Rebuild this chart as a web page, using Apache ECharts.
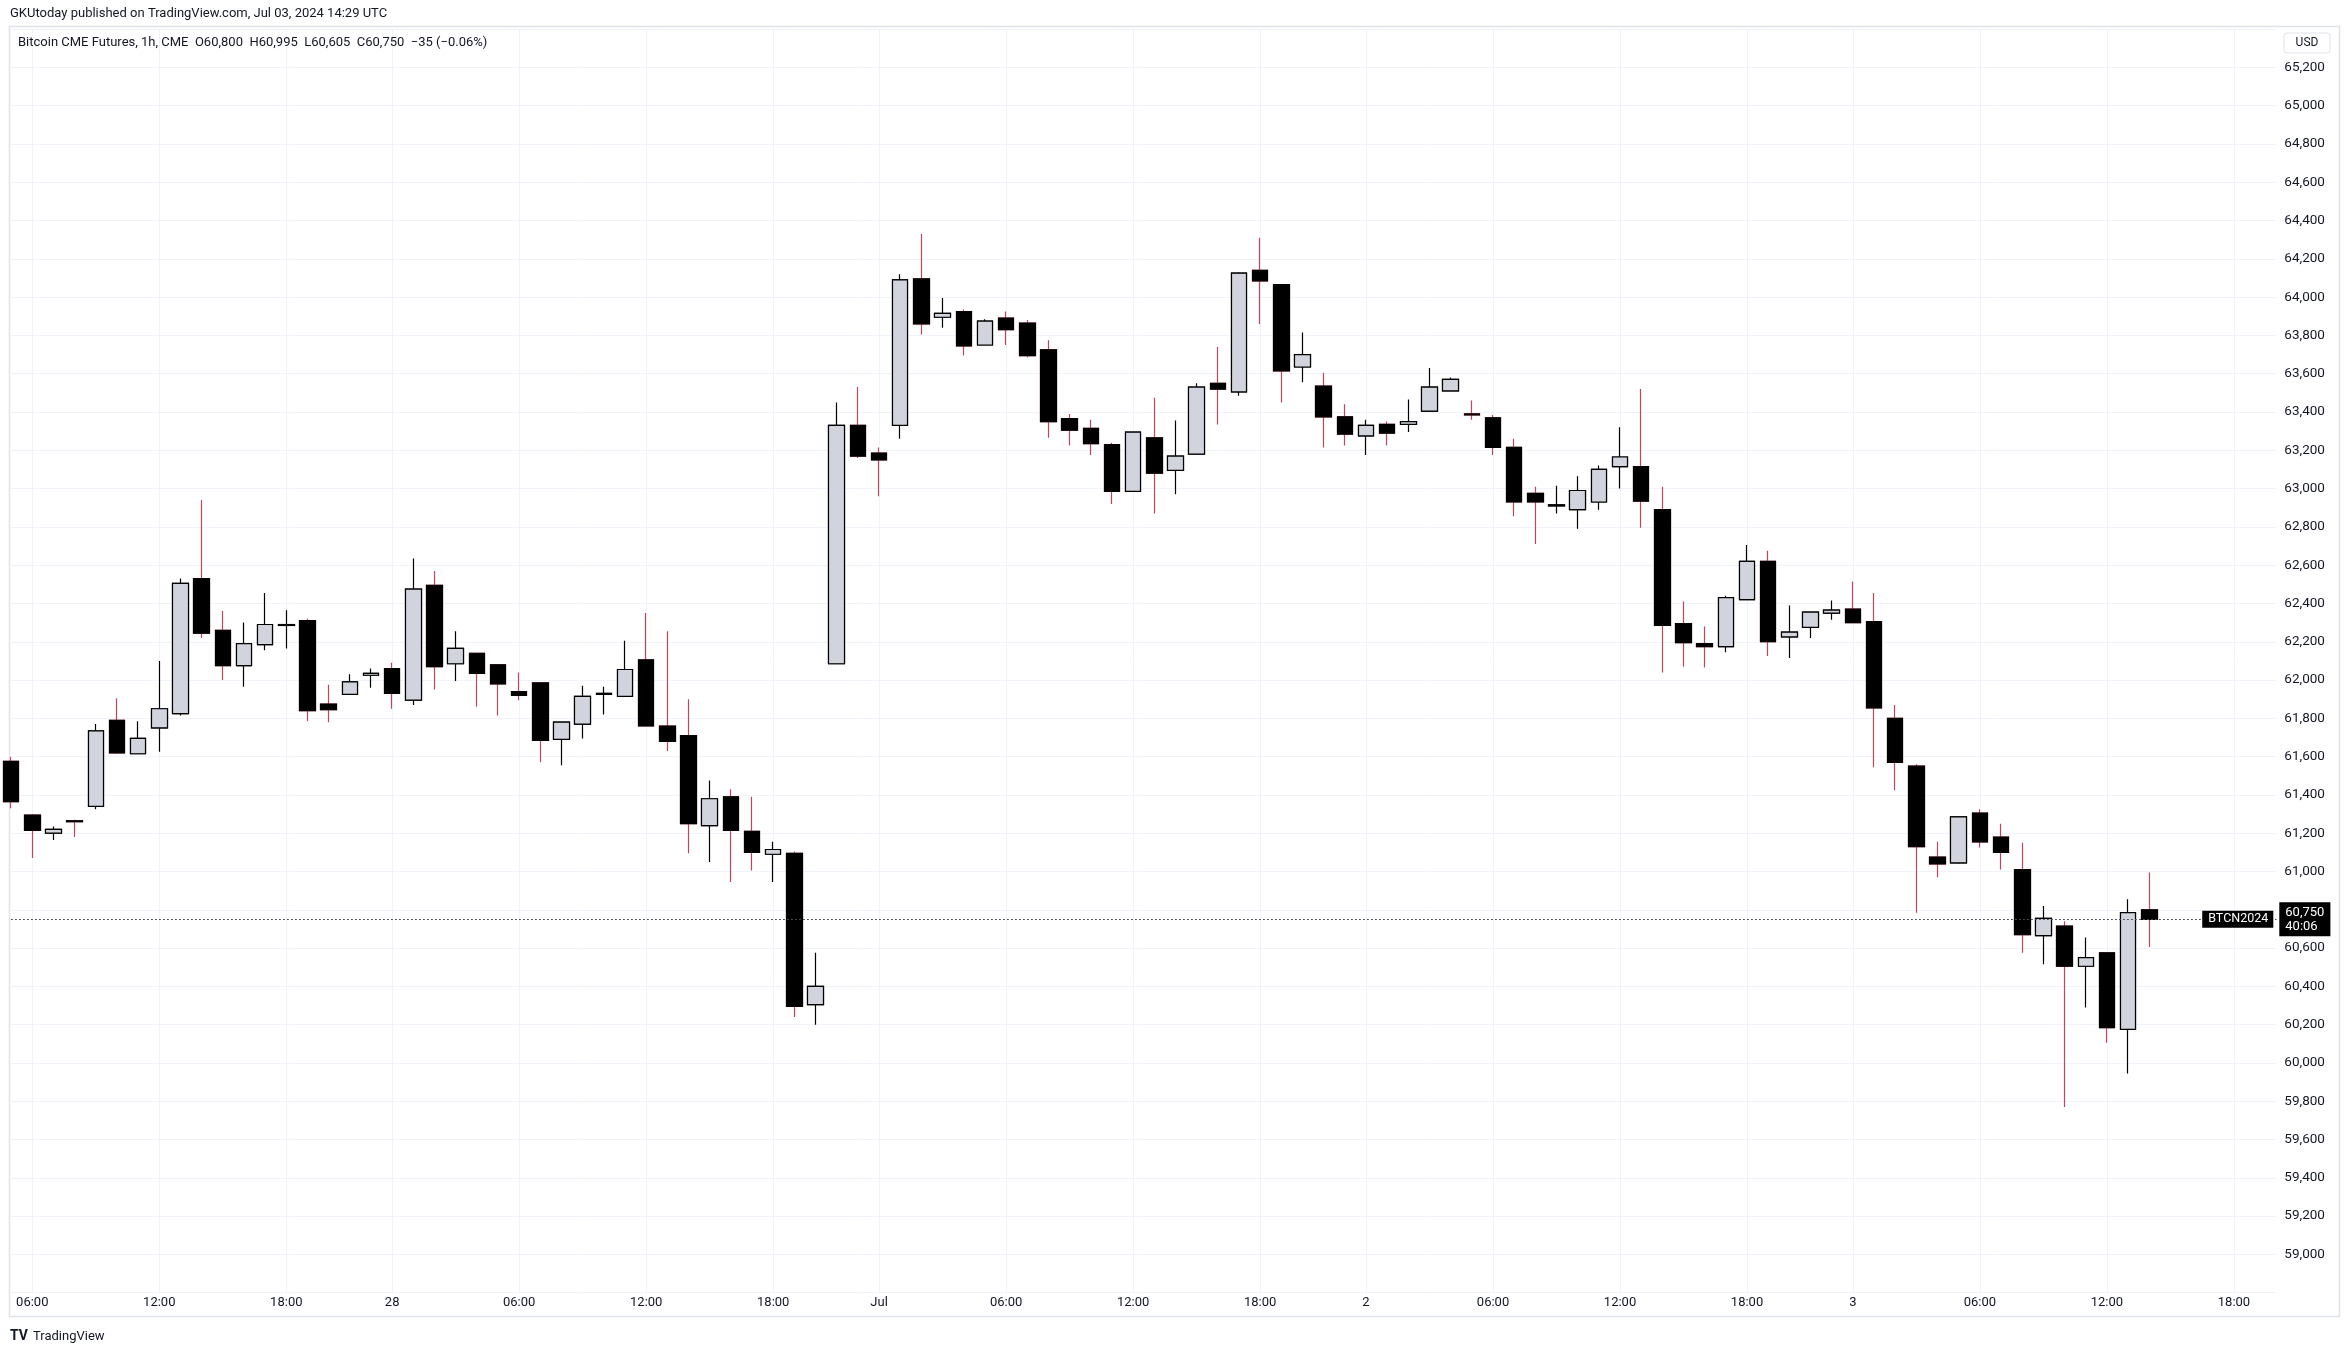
<!DOCTYPE html>
<html>
<head>
<meta charset="utf-8">
<title>Bitcoin CME Futures 1h</title>
<script src="https://cdn.jsdelivr.net/npm/echarts@6/dist/echarts.min.js"></script>
<style>
  html, body { margin: 0; padding: 0; background: #fff; }
  #chart { width: 2345px; height: 1352px; }
</style>
</head>
<body>
<div id="chart"></div>
<script>
// trading sessions (CME pauses 21:00 UTC every day, weekend closed)
const sessions = [
  ['Jun 27', 5, 20], ['Jun 27', 22, 23],
  ['Jun 28', 0, 20],
  ['Jun 30', 22, 23],
  ['Jul 1', 0, 20], ['Jul 1', 22, 23],
  ['Jul 2', 0, 20], ['Jul 2', 22, 23],
  ['Jul 3', 0, 20]
];
// x axis labels
const tickLabels = {
  'Jun 27 06:00': '06:00', 'Jun 27 12:00': '12:00', 'Jun 27 18:00': '18:00',
  'Jun 28 00:00': '28', 'Jun 28 06:00': '06:00', 'Jun 28 12:00': '12:00', 'Jun 28 18:00': '18:00',
  'Jul 1 00:00': 'Jul', 'Jul 1 06:00': '06:00', 'Jul 1 12:00': '12:00', 'Jul 1 18:00': '18:00',
  'Jul 2 00:00': '2', 'Jul 2 06:00': '06:00', 'Jul 2 12:00': '12:00', 'Jul 2 18:00': '18:00',
  'Jul 3 00:00': '3', 'Jul 3 06:00': '06:00', 'Jul 3 12:00': '12:00', 'Jul 3 18:00': '18:00'
};

// hourly OHLC, from Jun 27 05:00 to Jul 3 14:00
const opens = [
  61575, 61295, 61200, 61265, 61340, 61790, 61615, 61750, 61825, 62530,
  62260, 62075, 62185, 62285, 62310, 61875, 61925, 62025,
  62060, 61895, 62495, 62085, 62140, 62080, 61940, 61985, 61690, 61770,
  61925, 61915, 62105, 61760, 61710, 61240, 61390, 61210, 61090, 61095, 60305,
  62085, 63330,
  63185, 63330, 64095, 63895, 63925, 63750, 63890, 63865, 63725, 63365,
  63315, 63230, 62985, 63265, 63095, 63180, 63550, 63505, 64140, 64065, 63635,
  63535, 63375,
  63275, 63335, 63335, 63405, 63510, 63390, 63370, 63215, 62975, 62910,
  62890, 62930, 63115, 63115, 62890, 62295, 62190, 62175, 62420, 62620, 62225,
  62275, 62350,
  62370, 62305, 61800, 61550, 61075, 61045, 61305, 61180, 61010, 60665,
  60715, 60505, 60575, 60175, 60800
];
const highs = [
  61600, 61300, 61235, 61270, 61770, 61905, 61785, 62100, 62530, 62940,
  62360, 62300, 62455, 62365, 62320, 61975, 62030, 62060,
  62090, 62635, 62570, 62255, 62140, 62080, 62040, 61985, 61780, 61970,
  61965, 62205, 62350, 62255, 61900, 61475, 61430, 61390, 61155, 61105, 60575,
  63450, 63530,
  63215, 64120, 64330, 63995, 63935, 63885, 63925, 63880, 63775, 63390,
  63360, 63240, 63295, 63475, 63355, 63550, 63740, 64130, 64310, 64065, 63815,
  63605, 63440,
  63360, 63350, 63465, 63630, 63580, 63460, 63385, 63260, 63010, 63015,
  63065, 63120, 63320, 63520, 63010, 62410, 62280, 62440, 62705, 62675, 62390,
  62355, 62415,
  62515, 62455, 61870, 61560, 61155, 61285, 61325, 61250, 61150, 60820,
  60740, 60655, 60575, 60855, 60995
];
const lows = [
  61330, 61070, 61165, 61180, 61325, 61615, 61615, 61625, 61815, 62220,
  62000, 61965, 62155, 62165, 61785, 61780, 61925, 61960,
  61850, 61870, 61950, 61995, 61860, 61815, 61895, 61570, 61555, 61695,
  61820, 61915, 61760, 61630, 61095, 61050, 60945, 61005, 60945, 60240, 60200,
  62085, 63160,
  62960, 63260, 63805, 63840, 63695, 63750, 63750, 63685, 63265, 63225,
  63175, 62920, 62985, 62870, 62970, 63180, 63335, 63485, 63860, 63450, 63555,
  63215, 63225,
  63175, 63225, 63295, 63405, 63510, 63360, 63175, 62855, 62710, 62870,
  62790, 62890, 63000, 62795, 62040, 62070, 62065, 62145, 62420, 62125, 62115,
  62220, 62315,
  62300, 61545, 61425, 60785, 60970, 61040, 61125, 61010, 60575, 60515,
  59770, 60290, 60105, 59945, 60605
];
const closes = [
  61365, 61215, 61220, 61260, 61735, 61620, 61695, 61850, 62505, 62245,
  62075, 62190, 62290, 62290, 61840, 61845, 61990, 62035,
  61930, 62475, 62070, 62165, 62035, 61980, 61920, 61685, 61780, 61915,
  61930, 62055, 61760, 61680, 61250, 61380, 61215, 61100, 61115, 60295, 60400,
  63330, 63170,
  63150, 64090, 63860, 63915, 63745, 63875, 63830, 63695, 63350, 63305,
  63235, 62985, 63295, 63080, 63170, 63530, 63520, 64125, 64085, 63615, 63700,
  63375, 63285,
  63330, 63290, 63350, 63530, 63570, 63385, 63215, 62930, 62930, 62915,
  62990, 63100, 63165, 62935, 62285, 62195, 62175, 62430, 62620, 62200, 62250,
  62355, 62365,
  62300, 61855, 61570, 61130, 61040, 61285, 61155, 61100, 60670, 60755,
  60505, 60550, 60185, 60785, 60750
];
const symbolName = 'BTCN2024';
const countdown = '40:06';

const pad = h => (h < 10 ? '0' : '') + h + ':00';
let categories = [];
sessions.forEach(s => {
  for (let h = s[1]; h <= s[2]; h++) categories.push(s[0] + ' ' + pad(h));
});
// full candle -> wicks; body only -> bodies drawn on top
let wickData = opens.map((o, i) => [o, closes[i], lows[i], highs[i]]);
let bodyData = opens.map((o, i) => [o, closes[i], Math.min(o, closes[i]), Math.max(o, closes[i])]);
const fmt = v => Number(v).toLocaleString('en-US');
const lastClose = closes[closes.length - 1];
const showTick = (idx, val) => tickLabels[categories[idx]] !== undefined;

const FONT = 'Roboto';
const TXT = '#131722';
const GRID = '#f0f3fa';
const WICK_DOWN = '#c0455f';

let chart = echarts.init(document.getElementById('chart'));
let option = {
  backgroundColor: '#ffffff',
  animation: false,
  textStyle: { fontFamily: FONT },
  grid: { left: 11.1, right: 68.7, top: 29.1, bottom: 59.3 },
  xAxis: {
    type: 'category',
    data: categories,
    boundaryGap: false,
    axisLine: { show: false },
    axisTick: { show: false },
    axisLabel: {
      interval: showTick,
      formatter: v => tickLabels[v] || '',
      color: TXT, fontSize: 13, fontFamily: FONT, margin: 4
    },
    splitLine: { show: true, interval: showTick, lineStyle: { color: GRID, width: 1 } }
  },
  yAxis: {
    type: 'value',
    position: 'right',
    min: 58800,
    max: 65400,
    interval: 200,
    scale: true,
    axisLine: { show: false },
    axisTick: { show: false },
    axisLabel: {
      formatter: v => (v <= 58800 || v >= 65400) ? '' : fmt(v),
      color: TXT, fontSize: 13.5, fontFamily: FONT, align: 'left', margin: 8
    },
    splitLine: { lineStyle: { color: GRID, width: 1 } }
  },
  series: [
    {
      name: 'wicks',
      type: 'candlestick',
      data: wickData,
      barWidth: 16,
      itemStyle: {
        color: '#d1d4dc', color0: '#000000',
        borderColor: '#000000', borderColor0: WICK_DOWN, borderWidth: 1.2
      },
      z: 2
    },
    {
      name: 'Bitcoin CME Futures',
      type: 'candlestick',
      data: bodyData,
      barWidth: 16,
      itemStyle: {
        color: '#d1d4dc', color0: '#000000',
        borderColor: '#000000', borderColor0: '#000000', borderWidth: 1.2
      },
      z: 3,
      markLine: {
        silent: true,
        symbol: ['none', 'none'],
        lineStyle: { type: [1.5, 2.5], color: '#4a4d57', width: 1 },
        data: [
          {
            yAxis: lastClose,
            label: {
              position: 'end', distance: 3,
              formatter: fmt(lastClose) + '\n' + countdown,
              backgroundColor: '#000', color: '#fff', fontSize: 13, lineHeight: 14,
              padding: [3, 6, 3, 6], fontFamily: FONT, align: 'left'
            }
          },
          {
            yAxis: lastClose,
            label: {
              position: 'insideEnd', distance: 3,
              formatter: symbolName,
              backgroundColor: '#000', color: '#fff', fontSize: 12.5,
              padding: [2, 5, 2, 6], fontFamily: FONT
            }
          }
        ]
      }
    }
  ],
  graphic: [
    { type: 'rect', silent: true, z: -1,
      shape: { x: 9.5, y: 26.5, width: 2330, height: 1290 },
      style: { fill: 'none', stroke: '#e0e3eb', lineWidth: 1.5 } },
    { type: 'text', left: 10, top: 7,
      style: { text: 'GKUtoday published on TradingView.com, Jul 03, 2024 14:29 UTC',
               font: '13px Roboto', fill: TXT } },
    { type: 'text', left: 18, top: 36, z: 10,
      style: { text: 'Bitcoin CME Futures, 1h, CME  O' + fmt(opens[opens.length - 1]) +
                     '  H' + fmt(highs[highs.length - 1]) + '  L' + fmt(lows[lows.length - 1]) +
                     '  C' + fmt(lastClose) + '  \u221235 (\u22120.06%)',
               font: '13px Roboto', fill: TXT } },
    { type: 'rect', z: 10, shape: { x: 2284, y: 33, width: 46, height: 20, r: 3 },
      style: { fill: '#fff', stroke: '#e0e3eb', lineWidth: 1 } },
    { type: 'text', z: 11, x: 2307, y: 43,
      style: { text: 'USD', font: '12px Roboto', fill: TXT, align: 'center', verticalAlign: 'middle' } },
    { type: 'text', left: 10, top: 1329,
      style: { text: 'TV', font: 'bold 14px Roboto', fill: TXT } },
    { type: 'text', left: 33, top: 1330,
      style: { text: 'TradingView', font: '13px Roboto', fill: TXT } }
  ]
};
chart.setOption(option);
window.addEventListener('resize', function () {
  chart.resize();
});
</script>
</body>
</html>
